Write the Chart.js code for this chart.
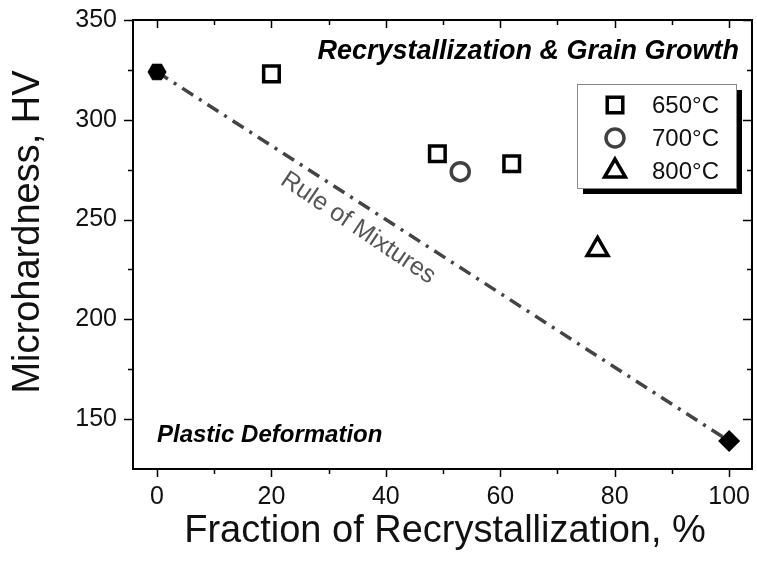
<!DOCTYPE html>
<html>
<head>
<meta charset="utf-8">
<script src="https://cdn.jsdelivr.net/npm/chart.js@4.4.0/dist/chart.umd.min.js"></script>
<style>
  html, body { margin: 0; padding: 0; background: #fff; }
  #wrap { width: 757px; height: 562px; }
</style>
</head>
<body>
<div id="wrap"><canvas id="myChart" width="757" height="562"></canvas></div>
<script>
/* [ Data ] */
const seriesNames = ['650°C', '700°C', '800°C'];
const frac650 = [20, 49, 62];
const hv650 = [323, 283, 278];
const frac700 = [53];
const hv700 = [274];
const frac800 = [77];
const hv800 = [235];
const fracEnds = [0, 100];
const hvEnds = [324, 139];
const xTickValues = [0, 20, 40, 60, 80, 100];
const yTickValues = [150, 200, 250, 300, 350];

const FONT = 'Arial, "Liberation Sans", sans-serif';

function pts(xs, ys) {
    return xs.map(function (v, i) { return { x: v, y: ys[i] }; });
}

/* [ Hexagon marker ] */
function hexagon(size) {
    var c = document.createElement('canvas');
    c.width = size; c.height = size;
    var g = c.getContext('2d');
    var r = size / 2;
    g.beginPath();
    for (var i = 0; i < 6; i++) {
        var a = Math.PI / 3 * i;
        var px = r + Math.cos(a) * (r - 0.5);
        var py = r + Math.sin(a) * (r - 0.5);
        if (i === 0) g.moveTo(px, py); else g.lineTo(px, py);
    }
    g.closePath();
    g.fillStyle = '#000';
    g.fill();
    return c;
}

/* [ Frame, ticks, labels, legend, notes ] */
const decoPlugin = {
    id: 'deco',
    afterDraw(chart) {
        const ctx = chart.ctx;
        const a = chart.chartArea;
        const x = chart.scales.x;
        const y = chart.scales.y;
        ctx.save();
        ctx.strokeStyle = '#000';
        ctx.lineWidth = 2;
        ctx.strokeRect(a.left, a.top, a.right - a.left, a.bottom - a.top);

        ctx.lineWidth = 1.5;
        ctx.beginPath();
        for (let v = 0; v <= 100; v += 10) {
            const px = Math.round(x.getPixelForValue(v)) + 0.5;
            const len = v % 20 === 0 ? 8 : 5;
            ctx.moveTo(px, a.bottom); ctx.lineTo(px, a.bottom + len);
            ctx.moveTo(px, a.top); ctx.lineTo(px, a.top + len);
        }
        for (let v = 150; v <= 350; v += 25) {
            const py = Math.round(y.getPixelForValue(v)) + 0.5;
            const len = v % 50 === 0 ? 9 : 5;
            ctx.moveTo(a.left, py); ctx.lineTo(a.left - len, py);
            ctx.moveTo(a.right, py); ctx.lineTo(a.right - len, py);
        }
        ctx.stroke();

        // tick labels
        ctx.fillStyle = '#111';
        ctx.font = '25px ' + FONT;
        ctx.textBaseline = 'middle';
        ctx.textAlign = 'center';
        xTickValues.forEach(function (v) {
            ctx.fillText(String(v), x.getPixelForValue(v), 497);
        });
        ctx.textAlign = 'right';
        yTickValues.forEach(function (v) {
            ctx.fillText(String(v), 117, y.getPixelForValue(v));
        });

        // axis titles
        ctx.font = '38px ' + FONT;
        ctx.textAlign = 'center';
        ctx.fillText('Fraction of Recrystallization, %', 445, 532);
        ctx.save();
        ctx.translate(29, 232);
        ctx.rotate(-Math.PI / 2);
        ctx.fillText('Microhardness, HV', 0, 0);
        ctx.restore();

        // legend box with shadow
        const lx = 577, ly = 84, lw = 159, lh = 104;
        ctx.fillStyle = '#000';
        ctx.fillRect(lx + 6, ly + 6, lw, lh);
        ctx.fillStyle = '#fff';
        ctx.fillRect(lx, ly, lw, lh);
        ctx.strokeStyle = '#888';
        ctx.lineWidth = 1;
        ctx.strokeRect(lx + 0.5, ly + 0.5, lw, lh);

        const sets = chart.data.datasets;
        ctx.font = '24px ' + FONT;
        ctx.textAlign = 'left';
        for (let i = 0; i < 3; i++) {
            const ds = sets[i];
            const ry = ly + 21 + i * 33;
            ctx.strokeStyle = ds.borderColor;
            ctx.lineWidth = ds.borderWidth;
            ctx.fillStyle = '#fff';
            Chart.helpers.drawPoint(ctx, {
                pointStyle: ds.pointStyle,
                radius: ds.pointRadius,
                borderWidth: ds.borderWidth,
                rotation: 0
            }, 615, ry);
            ctx.fillStyle = '#111';
            ctx.fillText(seriesNames[i], 652, ry + 1);
        }

        // notes
        ctx.fillStyle = '#000';
        ctx.font = 'italic bold 27px ' + FONT;
        ctx.textAlign = 'right';
        ctx.fillText('Recrystallization & Grain Growth', 739, 52);
        ctx.textAlign = 'left';
        ctx.font = 'italic bold 24px ' + FONT;
        ctx.fillText('Plastic Deformation', 157, 435);

        ctx.save();
        ctx.translate(358, 228);
        ctx.rotate(34 * Math.PI / 180);
        ctx.fillStyle = '#555';
        ctx.font = '25px ' + FONT;
        ctx.textAlign = 'center';
        ctx.fillText('Rule of Mixtures', 0, 0);
        ctx.restore();
        ctx.restore();
    }
};

/* [ Chart ] */
const ctx1 = document.getElementById('myChart').getContext('2d');
let myChart = new Chart(ctx1, {
    type: 'scatter',
    data: {
        datasets: [
            {
                label: seriesNames[0],
                data: pts(frac650, hv650),
                pointStyle: 'rect',
                pointRadius: 11,
                borderWidth: 3.5,
                borderColor: '#000',
                backgroundColor: '#fff'
            },
            {
                label: seriesNames[1],
                data: pts(frac700, hv700),
                pointStyle: 'circle',
                pointRadius: 9,
                borderWidth: 3.5,
                borderColor: '#404040',
                backgroundColor: '#fff'
            },
            {
                label: seriesNames[2],
                data: pts(frac800, hv800),
                pointStyle: 'triangle',
                pointRadius: 12,
                borderWidth: 3.5,
                borderColor: '#000',
                backgroundColor: '#fff'
            },
            {
                label: 'start',
                data: pts(fracEnds.slice(0, 1), hvEnds.slice(0, 1)),
                pointStyle: hexagon(20),
                pointRadius: 10
            },
            {
                label: 'end',
                data: pts(fracEnds.slice(1), hvEnds.slice(1)),
                pointStyle: 'rectRot',
                pointRadius: 11,
                borderWidth: 0,
                backgroundColor: '#000',
                borderColor: '#000'
            },
            {
                type: 'line',
                label: 'Rule of Mixtures',
                data: pts(fracEnds, hvEnds),
                borderColor: '#444',
                borderWidth: 3.5,
                borderDash: [13, 7, 3, 7],
                pointRadius: 0,
                fill: false
            }
        ]
    },
    options: {
        responsive: false,
        animation: false,
        devicePixelRatio: 1,
        layout: { autoPadding: false, padding: { left: 0, right: 5, top: 20, bottom: 0 } },
        plugins: { legend: { display: false }, tooltip: { enabled: false } },
        scales: {
            x: {
                type: 'linear',
                min: -4.2,
                max: 104,
                grid: { display: false, drawTicks: false },
                border: { display: false },
                afterBuildTicks: function (s) { s.ticks = xTickValues.map(function (v) { return { value: v }; }); },
                afterFit: function (s) { s.height = 93; },
                ticks: { display: false }
            },
            y: {
                type: 'linear',
                min: 125,
                max: 350,
                grid: { display: false, drawTicks: false },
                border: { display: false },
                afterBuildTicks: function (s) { s.ticks = yTickValues.map(function (v) { return { value: v }; }); },
                afterFit: function (s) { s.width = 133; },
                ticks: { display: false }
            }
        }
    },
    plugins: [decoPlugin]
});
</script>
</body>
</html>
